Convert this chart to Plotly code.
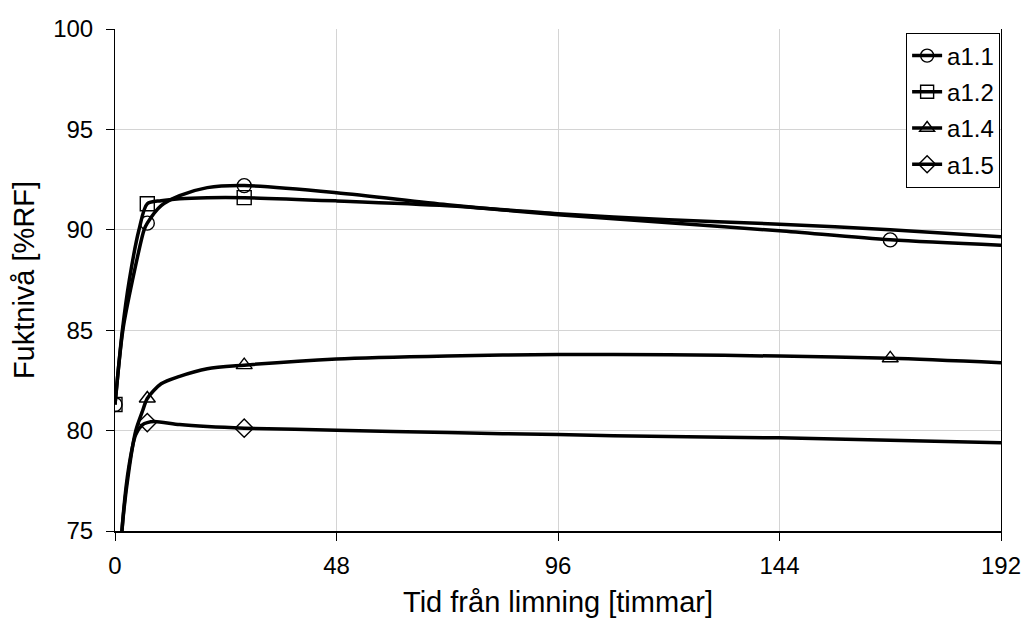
import plotly.graph_objects as go

# ---- data ----
names = ["a1.1", "a1.2", "a1.4", "a1.5"]
symbols = ["circle-open", "square-open", "triangle-up-open", "diamond-open"]

# curve samples (hours, %RF)
t_a11 = [0, 1.7, 3.8, 6.3, 7, 10, 14, 20, 28, 48, 72, 96, 120, 144, 168, 192]
v_a11 = [81.3, 85.0, 87.5, 90.0, 90.33, 91.2, 91.7, 92.1, 92.2, 91.85, 91.25, 90.75, 90.35, 89.95, 89.5, 89.23]

t_a12 = [0, 1.6, 3.1, 5.2, 7, 10, 14, 20, 28, 48, 72, 96, 120, 144, 168, 192]
v_a12 = [81.3, 85.0, 87.5, 90.0, 91.3, 91.45, 91.55, 91.6, 91.6, 91.44, 91.2, 90.8, 90.5, 90.28, 90.0, 89.65]

t_a14 = [0.5, 1.5, 3, 4.5, 6, 7, 10, 14, 20, 28, 48, 72, 96, 120, 144, 168, 192]
v_a14 = [70.0, 75.0, 78.0, 80.0, 81.0, 81.6, 82.33, 82.7, 83.08, 83.26, 83.57, 83.72, 83.79, 83.78, 83.71, 83.6, 83.38]

t_a15 = [0.5, 1.5, 3, 4.5, 6, 7, 8.5, 14, 20, 28, 48, 72, 96, 120, 144, 168, 192]
v_a15 = [70.0, 75.0, 78.2, 79.8, 80.3, 80.4, 80.45, 80.3, 80.2, 80.12, 80.02, 79.9, 79.8, 79.7, 79.64, 79.52, 79.4]

# measured points (markers)
mt_a11 = [0, 7, 28, 168]
mv_a11 = [81.3, 90.33, 92.2, 89.5]
mt_a12 = [0, 7, 28]
mv_a12 = [81.3, 91.3, 91.6]
mt_a14 = [7, 28, 168]
mv_a14 = [81.6, 83.26, 83.6]
mt_a15 = [7, 28]
mv_a15 = [80.4, 80.12]

x_ticks = [0, 48, 96, 144, 192]
y_ticks = [75, 80, 85, 90, 95, 100]

curves = [(t_a11, v_a11), (t_a12, v_a12), (t_a14, v_a14), (t_a15, v_a15)]
marks = [(mt_a11, mv_a11), (mt_a12, mv_a12), (mt_a14, mv_a14), (mt_a15, mv_a15)]

FONT = "Liberation Sans, Arial, sans-serif"
fig = go.Figure()

for name, sym, (tc, vc), (tm, vm) in zip(names, symbols, curves, marks):
    fig.add_trace(go.Scatter(x=tc, y=vc, mode="lines", showlegend=False,
                             line=dict(color="black", width=3.5, shape="spline", smoothing=0.8),
                             hoverinfo="skip"))
    fig.add_trace(go.Scatter(x=tm, y=vm, mode="markers", showlegend=False,
                             marker=dict(symbol=sym, size=14, color="black",
                                         line=dict(color="black", width=1.4))))
    fig.add_trace(go.Scatter(x=[None], y=[None], mode="lines+markers", name=name,
                             legendgroup=name,
                             line=dict(color="black", width=3.5),
                             marker=dict(symbol=sym, size=13, color="black",
                                         line=dict(color="black", width=1.4))))

fig.update_layout(
    width=1033, height=625,
    margin=dict(l=115, r=25, t=29, b=92),
    paper_bgcolor="white", plot_bgcolor="white",
    font=dict(family=FONT, size=24, color="black"),
    legend=dict(x=0.999, y=0.993, xanchor="right", yanchor="top",
                bordercolor="black", borderwidth=1, bgcolor="white",
                font=dict(size=24), tracegroupgap=2, traceorder="grouped",
                itemwidth=30),
    xaxis=dict(range=[0, 192], tickvals=x_ticks, ticktext=[str(v) for v in x_ticks],
               showgrid=True, gridcolor="#d4d4d4", gridwidth=1,
               showline=True, linecolor="black", linewidth=2,
               ticks="outside", ticklen=8, tickcolor="black",
               zeroline=False, ticklabelstandoff=4,
               title=dict(text="Tid från limning [timmar]", standoff=14)),
    yaxis=dict(range=[75, 100], tickvals=y_ticks, ticktext=[str(v) for v in y_ticks],
               showgrid=True, gridcolor="#d4d4d4", gridwidth=1,
               showline=True, linecolor="black", linewidth=1, mirror=True,
               ticks="outside", ticklen=8, tickcolor="black",
               zeroline=False, ticklabelstandoff=8,
               title=dict(text="Fuktnivå [%RF]", standoff=10)),
)

fig.write_html("out.html")
